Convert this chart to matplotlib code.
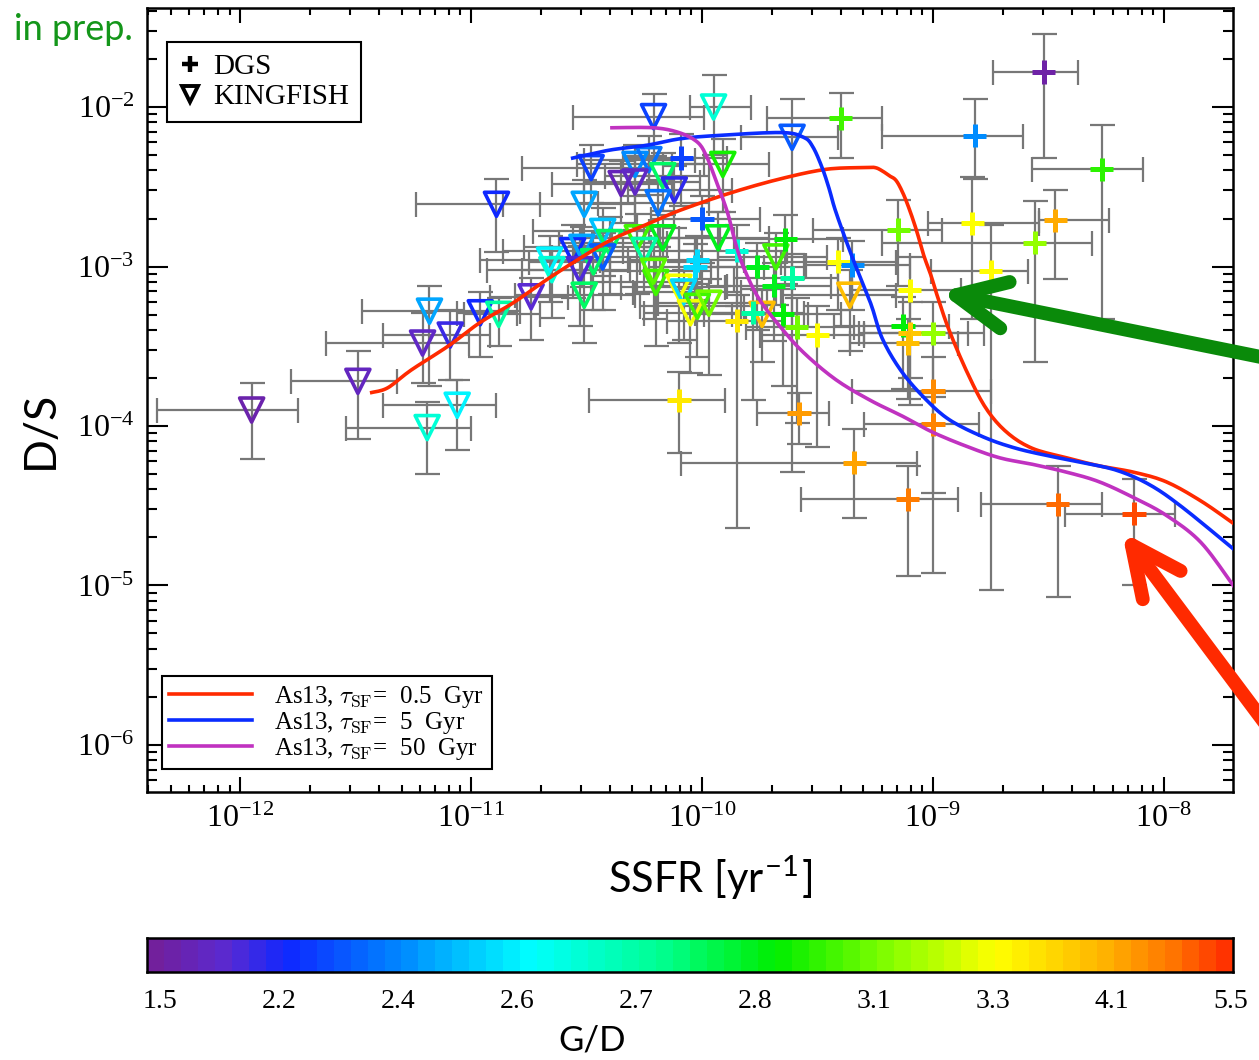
import numpy as np
import matplotlib
matplotlib.use("Agg")
import matplotlib.pyplot as plt
from matplotlib.colors import LinearSegmentedColormap
from matplotlib.lines import Line2D

plt.rcParams['font.family'] = 'serif'
plt.rcParams['font.serif'] = ['Liberation Serif', 'DejaVu Serif']
plt.rcParams['mathtext.fontset'] = 'cm'

# G/D colour bar labels (equally spaced along the bar)
gd_ticks = [1.5, 2.2, 2.4, 2.6, 2.7, 2.8, 3.1, 3.3, 4.1, 5.5]

# Asano et al. (2013) tracks, log10 SSFR [yr-1] vs log10 D/S
red_logx = [-11.43, -11.36, -11.26, -11.10, -10.96, -10.82, -10.67, -10.53, -10.39, -10.23,
            -10.10, -9.88, -9.66, -9.46, -9.29, -9.25, -9.22, -9.19, -9.16, -9.13, -9.10,
            -9.07, -9.04, -9.01, -8.98, -8.93, -8.85, -8.77, -8.68, -8.57, -8.42, -8.28,
            -8.13, -7.99, -7.84, -7.70]
red_logy = [-3.79, -3.76, -3.65, -3.50, -3.35, -3.23, -3.08, -2.95, -2.83, -2.73,
            -2.65, -2.54, -2.45, -2.39, -2.38, -2.38, -2.40, -2.43, -2.46, -2.54, -2.65,
            -2.78, -2.93, -3.05, -3.19, -3.40, -3.67, -3.89, -4.04, -4.14, -4.20, -4.25,
            -4.29, -4.35, -4.47, -4.61]
blue_logx = [-10.56, -10.40, -10.24, -10.10, -9.95, -9.66, -9.56, -9.52, -9.48, -9.45, -9.42,
             -9.35, -9.27, -9.22, -9.14, -9.04, -8.93, -8.78, -8.64, -8.49, -8.35, -8.20,
             -8.06, -7.92, -7.70]
blue_logy = [-2.32, -2.27, -2.24, -2.20, -2.18, -2.16, -2.19, -2.25, -2.38, -2.51, -2.66,
             -2.94, -3.23, -3.45, -3.65, -3.82, -3.96, -4.07, -4.14, -4.19, -4.23, -4.28,
             -4.37, -4.51, -4.77]
mag_logx = [-10.39, -10.21, -10.10, -10.02, -9.98, -9.94, -9.89, -9.85, -9.81, -9.75, -9.66,
            -9.56, -9.42, -9.27, -9.13, -9.00, -8.85, -8.71, -8.57, -8.42, -8.28, -8.13,
            -7.99, -7.84, -7.70]
mag_logy = [-2.13, -2.13, -2.16, -2.22, -2.31, -2.46, -2.66, -2.88, -3.04, -3.21, -3.38,
            -3.54, -3.71, -3.84, -3.94, -4.04, -4.13, -4.20, -4.24, -4.29, -4.35, -4.45,
            -4.56, -4.73, -5.00]
model_labels = [r'As13, $\tau_{\rm SF}$=  0.5  Gyr',
                r'As13, $\tau_{\rm SF}$=  5  Gyr',
                r'As13, $\tau_{\rm SF}$=  50  Gyr']

# KINGFISH galaxies: log SSFR, log D/S, G/D, errors in dex (x low/high, y low/high)
kf_logx = [-11.95, -11.49, -11.18, -11.21, -11.09, -10.96, -10.88, -10.74, -11.06, -11.19,
           -10.89, -10.21, -9.95, -10.48, -10.29, -10.23, -10.35, -10.29, -10.17, -10.12,
           -10.51, -10.19, -9.91, -9.93, -10.43, -10.40, -10.28, -10.17, -10.25, -10.56,
           -10.52, -10.43, -10.47, -10.66, -10.65, -10.53, -10.51, -10.20, -10.21, -10.10,
           -10.08, -10.05, -10.02, -9.97, -9.61, -9.68, -9.36, -9.74]
kf_logy = [-3.90, -3.72, -3.28, -3.48, -3.43, -3.29, -3.30, -3.19, -3.87, -4.01,
           -2.61, -2.06, -2.00, -2.38, -2.36, -2.33, -2.48, -2.47, -2.43, -2.52,
           -2.61, -2.60, -2.36, -2.82, -2.78, -2.85, -2.82, -2.82, -2.90, -2.90,
           -2.88, -2.94, -2.97, -2.96, -3.02, -3.02, -3.18, -3.10, -3.03, -3.13,
           -3.16, -3.29, -3.25, -3.23, -2.19, -2.94, -3.18, -3.30]
kf_gd = [1.55, 1.70, 2.45, 1.75, 2.00, 2.20, 2.70, 1.85, 2.60, 2.65,
         2.20, 2.25, 2.65, 2.25, 2.40, 2.35, 1.65, 1.75, 2.75, 2.05,
         2.45, 2.35, 2.90, 2.80, 2.50, 2.75, 3.00, 2.80, 2.70, 2.20,
         2.45, 2.30, 2.75, 2.60, 2.65, 1.90, 2.75, 3.00, 3.05, 3.30,
         2.55, 3.30, 3.00, 3.10, 2.30, 3.00, 4.00, 4.00]
kf_xlo = [.41, .29, .29, .42, .29, .10, .15, .18, .32, .35,
          .35, .35, .10, .30, .25, .28, .30, .22, .25, .20,
          .35, .26, .22, .25, .30, .22, .25, .22, .30, .30,
          .25, .22, .28, .30, .28, .25, .30, .28, .22, .25,
          .22, .20, .25, .22, .22, .25, .30, .25]
kf_xhi = [.20, .17, .39, .20, .17, .16, .18, .16, .17, .19,
          .19, .22, .16, .25, .30, .20, .22, .28, .20, .25,
          .22, .22, .20, .22, .20, .25, .18, .25, .22, .22,
          .30, .25, .20, .22, .25, .22, .22, .20, .25, .20,
          .25, .22, .20, .25, .20, .22, .20, .20]
kf_ylo = [.31, .36, .47, .25, .28, .28, .20, .27, .28, .29,
          .30, .25, .30, .22, .20, .22, .25, .30, .22, .24,
          .26, .28, .30, .30, .28, .32, .35, .30, .26, .30,
          .25, .33, .30, .26, .30, .35, .30, .40, .30, .35,
          .30, .38, .32, .45, 2.10, .30, .35, .30]
kf_yhi = [.17, .19, .16, .19, .16, .13, .10, .12, .16, .16,
          .16, .14, .20, .14, .12, .15, .14, .16, .14, .15,
          .15, .14, .16, .16, .15, .16, .15, .14, .15, .16,
          .13, .15, .16, .15, .14, .15, .14, .16, .15, .16,
          .14, .15, .14, .15, .24, .15, .16, .15]

# DGS galaxies, same columns
dgs_logx = [-8.52, -9.40, -8.82, -8.27, -8.47, -8.83, -9.15, -8.56, -8.75, -9.41,
            -9.35, -9.10, -9.13, -9.10, -9.11, -9.00, -9.00, -9.00, -9.34, -9.11,
            -8.46, -8.13, -9.58, -10.10, -10.09, -10.00, -10.02, -10.03, -9.85, -9.64,
            -9.76, -9.69, -9.61, -9.65, -9.78, -9.85, -9.59, -9.50]
dgs_logy = [-1.78, -2.07, -2.18, -2.39, -2.71, -2.73, -2.77, -2.85, -3.03, -2.97,
            -2.99, -3.15, -3.37, -3.42, -3.48, -3.42, -3.78, -3.99, -4.23, -4.46,
            -4.49, -4.55, -3.92, -3.84, -2.32, -2.70, -2.96, -3.00, -2.90, -2.83,
            -3.00, -3.12, -3.07, -3.30, -3.29, -3.34, -3.38, -3.43]
dgs_gd = [1.50, 3.00, 2.40, 2.95, 4.20, 3.35, 3.10, 3.15, 3.40, 3.35,
          2.40, 3.35, 2.85, 3.90, 4.00, 3.15, 4.60, 4.70, 4.30, 4.80,
          5.00, 5.30, 4.40, 3.60, 2.25, 2.30, 2.55, 2.55, 2.65, 2.85,
          2.80, 2.80, 2.70, 2.85, 2.70, 3.60, 3.10, 3.40]
dgs_xlo = [.22, .32, .40, .30, .07, .19, .37, .66, .26, .25,
           .20, .25, .30, .22, .25, .30, .35, .30, .75, .46,
           .33, .30, .18, .39, .25, .22, .30, .20, .25, .22,
           .25, .20, .25, .22, .25, .30, .22, .25]
dgs_xhi = [.15, .18, .21, .18, .23, .29, .19, .25, .16, .25,
           .25, .22, .20, .25, .22, .22, .25, .20, .27, .22,
           .19, .18, .13, .20, .20, .25, .20, .30, .22, .25,
           .20, .25, .20, .25, .22, .20, .25, .20]
dgs_ylo = [.54, .25, .27, .94, .37, .60, .35, .75, 2.00, .30,
           .28, .55, .40, .45, .35, .40, .64, .93, .35, .48,
           .58, .45, .19, .33, .30, .28, .25, .30, .35, .28,
           .40, .35, .30, .45, .55, 1.30, .60, .70]
dgs_yhi = [.24, .16, .23, .28, .19, .29, .19, .26, .29, .15,
           .15, .21, .18, .20, .15, .20, .21, .20, .21, .21,
           .24, .22, .13, .18, .15, .14, .15, .14, .16, .15,
           .15, .14, .15, .16, .15, .16, .18, .18]

# rainbow colour table, nodes given in bar-label units (0 = 1.5 ... 9 = 5.5)
cb_lo, cb_hi = -0.11, 9.02
nodes = [(-0.11, '#72209c'), (0.5, '#5a2ad2'), (1.0, '#0f28ff'), (2.0, '#008cff'),
         (3.1, '#00ffff'), (4.2, '#00ff90'), (5.2, '#00ee00'), (6.2, '#8cff00'),
         (7.1, '#ffff00'), (8.0, '#ffb400'), (8.6, '#ff7300'), (9.02, '#ff3300')]
cmap = LinearSegmentedColormap.from_list(
    'gd', [((v - cb_lo) / (cb_hi - cb_lo), c) for v, c in nodes])


def gd_colour(gd):
    idx = np.interp(gd, gd_ticks, np.arange(len(gd_ticks)))
    return cmap((idx - cb_lo) / (cb_hi - cb_lo))


def errs(logv, lo, hi):
    v = 10.0 ** np.asarray(logv)
    return v, [v - v * 10.0 ** -np.asarray(lo), v * 10.0 ** np.asarray(hi) - v]


def catmull_rom(xs, ys, n=10):
    # smooth path through the tabulated track points
    p = np.column_stack([xs, ys])
    p = np.vstack([p[0], p, p[-1]])
    out = []
    t = np.linspace(0, 1, n, endpoint=False)[:, None]
    for i in range(1, len(p) - 2):
        p0, p1, p2, p3 = p[i - 1], p[i], p[i + 1], p[i + 2]
        out.append(0.5 * (2 * p1 + (-p0 + p2) * t + (2 * p0 - 5 * p1 + 4 * p2 - p3) * t ** 2
                          + (-p0 + 3 * p1 - 3 * p2 + p3) * t ** 3))
    out.append(p[-2][None, :])
    out = np.vstack(out)
    return out[:, 0], out[:, 1]


fig = plt.figure(figsize=(12.59, 10.60), dpi=100)
ax = fig.add_axes([147 / 1259, 1 - 792 / 1060, 1086 / 1259, 784 / 1060])

err_kw = dict(fmt='none', ecolor='#777777', elinewidth=1.6, capsize=9, capthick=1.6, zorder=2)
for lx, ly, xl, xh, yl, yh in [(kf_logx, kf_logy, kf_xlo, kf_xhi, kf_ylo, kf_yhi),
                               (dgs_logx, dgs_logy, dgs_xlo, dgs_xhi, dgs_ylo, dgs_yhi)]:
    x, xe = errs(lx, xl, xh)
    y, ye = errs(ly, yl, yh)
    ax.errorbar(x, y, xerr=xe, yerr=ye, **err_kw)

ax.scatter(10.0 ** np.array(kf_logx), 10.0 ** np.array(kf_logy), marker='v', s=300,
           facecolors='none', edgecolors=gd_colour(kf_gd), linewidths=2.6, zorder=3)
ax.scatter(10.0 ** np.array(dgs_logx), 10.0 ** np.array(dgs_logy), marker='+', s=280,
           c=gd_colour(dgs_gd), linewidths=3.6, zorder=3)

tracks = [(red_logx, red_logy, '#ff2a00'), (blue_logx, blue_logy, '#0a2cff'),
          (mag_logx, mag_logy, '#c032c0')]
model_handles = []
for (lx, ly, col), lab in zip(tracks, model_labels):
    sx, sy = catmull_rom(lx, ly)
    h, = ax.plot(10.0 ** sx, 10.0 ** sy, color=col, lw=2.6, zorder=4, label=lab)
    model_handles.append(h)

ax.set_xscale('log')
ax.set_yscale('log')
ax.set_xlim(10 ** -12.403, 10 ** -7.701)
ax.set_ylim(10 ** -6.295, 10 ** -1.379)
ax.set_xticks([1e-12, 1e-11, 1e-10, 1e-9, 1e-8])
ax.set_yticks([1e-6, 1e-5, 1e-4, 1e-3, 1e-2])

for s in ax.spines.values():
    s.set_linewidth(1.8)
ax.tick_params(which='both', direction='in', top=True, right=True, width=1.5,
               labelsize=23)
ax.tick_params(axis='x', which='major', length=11, pad=9)
ax.tick_params(axis='x', which='minor', length=5)
ax.tick_params(axis='y', which='major', length=15, pad=9)
ax.tick_params(axis='y', which='minor', length=7)

ax.set_xlabel('SSFR [yr$^{\\mathdefault{-1}}$]', family='Lato', fontsize=30)
ax.xaxis.set_label_coords((710 - 147) / 1086, -(878 - 792) / 784)
ax.xaxis.label.set_va('center')
ax.set_ylabel('D/S', family='Lato', fontsize=32)
ax.yaxis.set_label_coords(-(147 - 40) / 1086, (792 - 430) / 784)
ax.yaxis.label.set_va('center')

sample_handles = [
    Line2D([], [], marker='+', color='k', ls='none', ms=12, mew=3.2),
    Line2D([], [], marker='v', mfc='none', mec='k', ls='none', ms=12, mew=2.8),
]
leg1 = ax.legend(sample_handles, ['DGS', 'KINGFISH'], loc='upper left',
                 bbox_to_anchor=(0.0184, 0.9566), borderaxespad=0, fontsize=21,
                 handlelength=0.8, handletextpad=0.4, labelspacing=0.12, borderpad=0.4,
                 fancybox=False, edgecolor='k', framealpha=1)
leg1.get_frame().set_linewidth(1.5)
ax.add_artist(leg1)
leg2 = ax.legend(handles=model_handles, loc='lower left', bbox_to_anchor=(0.0138, 0.0293),
                 borderaxespad=0, fontsize=18, handlelength=3.3, handletextpad=0.9,
                 labelspacing=0.0, borderpad=0.3, fancybox=False, edgecolor='k',
                 framealpha=1)
leg2.get_frame().set_linewidth(1.5)

# colour bar
cax = fig.add_axes([147 / 1259, 1 - 972 / 1060, 1086 / 1259, 34 / 1060])
grad = np.linspace(0, 1, 64)[None, :]
cax.imshow(grad, cmap=cmap, aspect='auto', extent=[cb_lo, cb_hi, 0, 1])
cax.set_xlim(cb_lo, cb_hi)
cax.set_yticks([])
cax.set_xticks(np.arange(len(gd_ticks)))
cax.set_xticklabels([f'{v:.1f}' for v in gd_ticks])
cax.tick_params(axis='x', length=0, pad=12, labelsize=20)
for s in cax.spines.values():
    s.set_linewidth(1.8)
fig.text(592 / 1259, 1 - 1040 / 1060, 'G/D', family='Lato', fontsize=25,
         ha='center', va='center')

fig.text(14 / 1259, 1 - 30 / 1060, 'in prep.', family='Lato', fontsize=26,
         color='#14961a', va='center', ha='left')

# pointer arrows
ax.annotate('', xy=(940, 1060 - 292), xycoords='figure pixels',
            xytext=(1330, 1060 - 371), textcoords='figure pixels',
            arrowprops=dict(arrowstyle='->, head_length=36, head_width=17', mutation_scale=1,
                            lw=10, color='#0a8a0a', capstyle='round', joinstyle='round',
                            shrinkA=0, shrinkB=0),
            annotation_clip=False)
ax.annotate('', xy=(1122, 1060 - 532), xycoords='figure pixels',
            xytext=(1300, 1060 - 770), textcoords='figure pixels',
            arrowprops=dict(arrowstyle='->, head_length=36, head_width=17', mutation_scale=1,
                            lw=10, color='#ff2a00', capstyle='round', joinstyle='round',
                            shrinkA=0, shrinkB=0),
            annotation_clip=False)

fig.savefig('out.png', dpi=100)
